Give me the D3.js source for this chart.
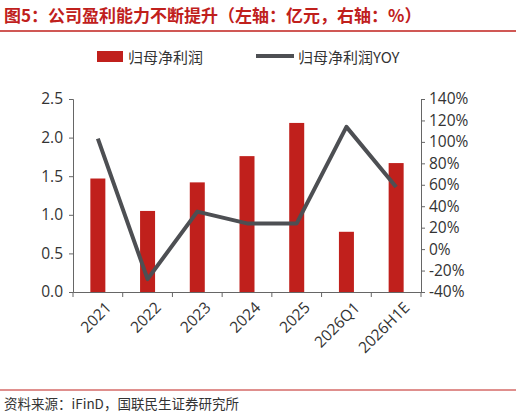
<!DOCTYPE html>
<html><head><meta charset="utf-8">
<script src="https://cdn.jsdelivr.net/npm/d3@7"></script>
<style>body{margin:0;background:#fff;font-family:"Open Sans","Noto Sans CJK SC",sans-serif;}</style>
</head><body>
<svg id="chart" width="516" height="417"></svg>
<script>
var categories = ["2021", "2022", "2023", "2024", "2025", "2026Q1", "2026H1E"];
var profit = [1.47, 1.05, 1.42, 1.76, 2.19, 0.78, 1.67];
var yoy = [103, -28, 35, 24, 24, 114, 58];
var leftTicks = [0, 0.5, 1.0, 1.5, 2.0, 2.5];
var rightTicks = [-40, -20, 0, 20, 40, 60, 80, 100, 120, 140];

var svg = d3.select("#chart");
var cjk = '"Noto Sans CJK SC",sans-serif';

svg.append("text").attr("x", 4).attr("y", 22)
    .style("font-family", cjk).style("font-size", "17px").style("font-weight", "bold")
    .style("fill", "#c0201c").text("图5：公司盈利能力不断提升（左轴：亿元，右轴：%）");
svg.append("line").attr("x1", 0).attr("x2", 516).attr("y1", 31).attr("y2", 31)
    .style("stroke", "#c0201c").style("stroke-width", 1.5);

var x = d3.scaleBand().domain(categories).range([73, 421]);
var yL = d3.scaleLinear().domain([0, 2.5]).range([292, 99]);
var yR = d3.scaleLinear().domain([-40, 140]).range([292, 99]);

// legend
svg.append("rect").attr("x", 97).attr("y", 51).attr("width", 26).attr("height", 11).style("fill", "#c0201c");
svg.append("text").attr("x", 128).attr("y", 63).style("font-family", cjk).style("font-size", "15px")
    .style("fill", "#333").text("归母净利润");
svg.append("line").attr("x1", 256).attr("x2", 294).attr("y1", 56).attr("y2", 56)
    .style("stroke", "#4d4f53").style("stroke-width", 4);
svg.append("text").attr("x", 298).attr("y", 63).style("font-family", cjk).style("font-size", "15px")
    .style("fill", "#333").text("归母净利润YOY");

// bars
svg.selectAll(".bar").data(profit).enter().append("rect")
    .attr("x", function (d, i) { return x(categories[i]) + x.bandwidth() / 2 - 7.5; })
    .attr("width", 15)
    .attr("y", function (d) { return yL(d); })
    .attr("height", function (d) { return yL(0) - yL(d); })
    .style("fill", "#c0201c");

// line
var line = d3.line()
    .x(function (d, i) { return x(categories[i]) + x.bandwidth() / 2; })
    .y(function (d) { return yR(d); });
svg.append("path").datum(yoy).attr("d", line)
    .style("fill", "none").style("stroke", "#4d4f53").style("stroke-width", 4).style("stroke-linejoin", "round");

function styleAxis(g) {
    g.selectAll("path,line").style("stroke", "#666");
    g.selectAll("text").style("font-size", "15.5px").style("fill", "#333").style("font-family", '"Open Sans",sans-serif');
}

var gL = svg.append("g").attr("transform", "translate(73,0)")
    .call(d3.axisLeft(yL).tickValues(leftTicks).tickFormat(d3.format(".1f")).tickSizeOuter(0).tickSize(4).tickPadding(6));
styleAxis(gL);
var gR = svg.append("g").attr("transform", "translate(421,0)")
    .call(d3.axisRight(yR).tickValues(rightTicks).tickFormat(function (d) { return d + "%"; }).tickSizeOuter(0).tickSize(4).tickPadding(4));
styleAxis(gR);

var gX = svg.append("g").attr("transform", "translate(0,292)")
    .call(d3.axisBottom(x).tickSize(0).tickPadding(8));
gX.select(".domain").style("stroke", "#666");
gX.selectAll("text").style("font-size", "15.5px").style("fill", "#333").style("font-family", '"Open Sans",sans-serif')
    .attr("text-anchor", "end").attr("transform", "rotate(-45)").attr("dx", "-0.1em").attr("dy", "0.9em");
// boundary ticks between categories
gX.selectAll(".sep").data(categories.concat([""])).enter().append("line")
    .attr("x1", function (d, i) { return 73 + i * x.step(); })
    .attr("x2", function (d, i) { return 73 + i * x.step(); })
    .attr("y1", 0).attr("y2", 5).style("stroke", "#666");

svg.append("line").attr("x1", 0).attr("x2", 516).attr("y1", 390).attr("y2", 390)
    .style("stroke", "#c0201c").style("stroke-width", 1);
svg.append("text").attr("x", 4).attr("y", 409).style("font-family", cjk).style("font-size", "13.5px")
    .style("fill", "#333").text("资料来源：iFinD，国联民生证券研究所");
</script>
</body></html>
